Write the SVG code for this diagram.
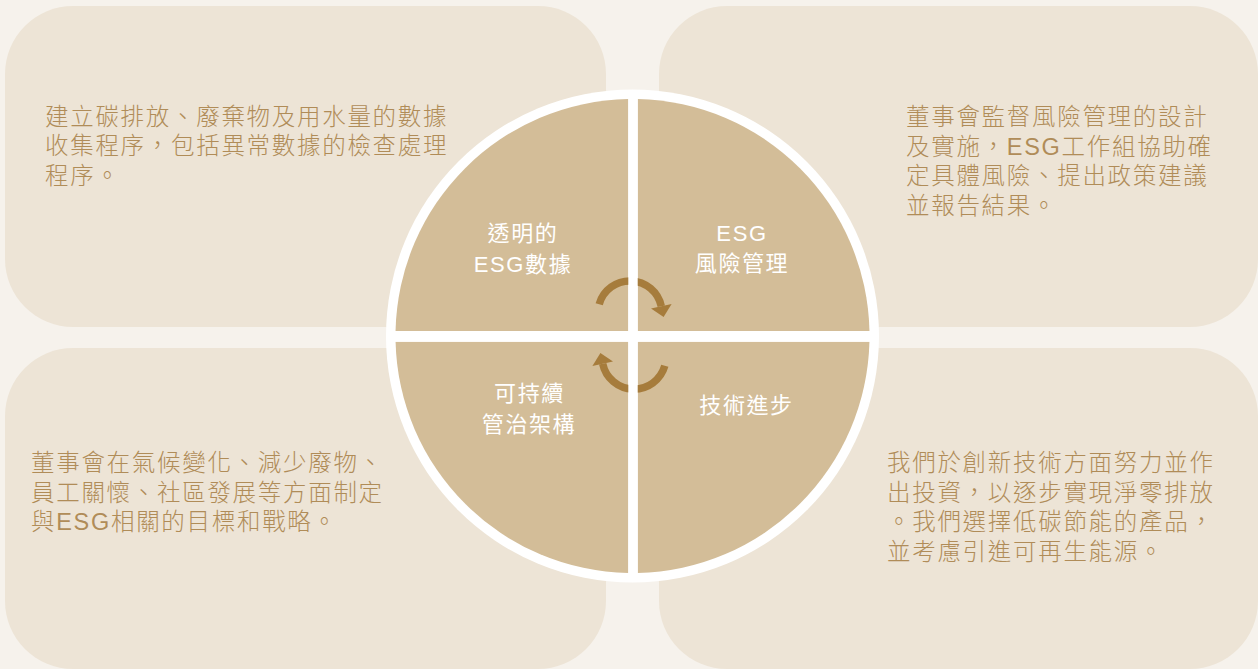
<svg xmlns="http://www.w3.org/2000/svg" width="1258" height="669" viewBox="0 0 1258 669">
<style>
.panel{fill:#ede4d6}
.desc{font-family:"Liberation Sans","Noto Sans CJK TC",sans-serif;font-size:23.5px;font-weight:300;fill:#b08c58;letter-spacing:1.7px}
.lbl{font-family:"Liberation Sans","Noto Sans CJK TC",sans-serif;font-size:22px;font-weight:400;fill:#ffffff;letter-spacing:1.6px;text-anchor:middle}
.quad{fill:#d3bd98}
.arc{fill:none;stroke:#a67c3c;stroke-width:7.5}
.head{fill:#a67c3c}
.div{fill:#ffffff}
</style>
<defs>
<g id="arrow">
<path class="arc" d="M599.2 304.2 A32 32 0 0 1 661.3 306.3"/>
<polygon class="head" points="671.6,304.1 651,308.5 663.6,317.1"/>
</g>
</defs>
<rect x="0" y="0" width="1258" height="669" fill="#f6f2ec"/>

<g id="panel-tl">
<rect class="panel" x="5" y="6" width="601" height="321" rx="68" ry="68"/>
<text class="desc"><tspan x="45" y="124.5">建立碳排放、廢棄物及用水量的數據</tspan><tspan x="45" y="154">收集程序，包括異常數據的檢查處理</tspan><tspan x="45" y="183.5">程序。</tspan></text>
</g>
<g id="panel-tr">
<rect class="panel" x="659" y="6" width="599" height="321" rx="68" ry="68"/>
<text class="desc"><tspan x="906" y="125">董事會監督風險管理的設計</tspan><tspan x="906" y="154.5">及實施，ESG工作組協助確</tspan><tspan x="906" y="184">定具體風險、提出政策建議</tspan><tspan x="906" y="213.5">並報告結果。</tspan></text>
</g>
<g id="panel-bl">
<rect class="panel" x="5" y="348" width="601" height="321" rx="68" ry="68"/>
<text class="desc"><tspan x="31" y="471">董事會在氣候變化、減少廢物、</tspan><tspan x="31" y="500.5">員工關懷、社區發展等方面制定</tspan><tspan x="31" y="530">與ESG相關的目標和戰略。</tspan></text>
</g>
<g id="panel-br">
<rect class="panel" x="659" y="348" width="599" height="321" rx="68" ry="68"/>
<text class="desc"><tspan x="887" y="471">我們於創新技術方面努力並作</tspan><tspan x="887" y="500.5">出投資，以逐步實現淨零排放</tspan><tspan x="887" y="530">。我們選擇低碳節能的產品，</tspan><tspan x="887" y="559.5">並考慮引進可再生能源。</tspan></text>
</g>

<circle cx="632.5" cy="336" r="246.5" fill="#ffffff"/>

<g id="quad-data">
<path class="quad" d="M628.3 331 L395.55 331 A237 237 0 0 1 628.3 99.04 Z"/>
</g>
<g id="quad-risk">
<path class="quad" d="M637.7 331 L637.7 99.06 A237 237 0 0 1 869.45 331 Z"/>
</g>
<g id="quad-gov">
<path class="quad" d="M628.3 341.7 L628.3 572.96 A237 237 0 0 1 395.57 341.7 Z"/>
</g>
<g id="quad-tech">
<path class="quad" d="M637.7 341.7 L869.43 341.7 A237 237 0 0 1 637.7 572.94 Z"/>
</g>

<g id="connectors">
<use href="#arrow"/>
<use href="#arrow" transform="rotate(180 632 335)"/>
</g>

<rect class="div" x="628.3" y="95" width="9.4" height="482"/>
<rect class="div" x="392" y="331" width="482" height="10.7"/>

<g id="label-data">
<text class="lbl" x="523" y="240.5">透明的</text>
<text class="lbl" x="523" y="271.5">ESG數據</text>
</g>
<g id="label-risk">
<text class="lbl" x="742" y="241">ESG</text>
<text class="lbl" x="742" y="271">風險管理</text>
</g>
<g id="label-gov">
<text class="lbl" x="529.5" y="400.5">可持續</text>
<text class="lbl" x="529" y="431.5">管治架構</text>
</g>
<g id="label-tech">
<text class="lbl" x="746.5" y="412.5">技術進步</text>
</g>
</svg>
